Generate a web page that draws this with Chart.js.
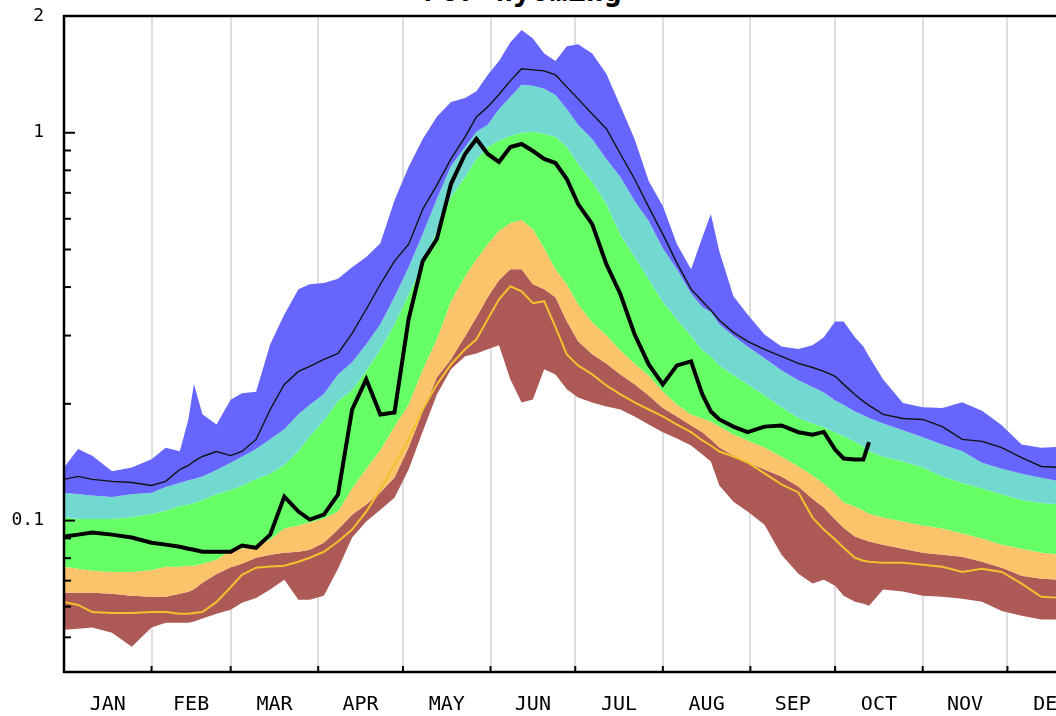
<!DOCTYPE html>
<html>
<head>
<meta charset="utf-8">
<script src="https://cdn.jsdelivr.net/npm/chart.js@4.4.1/dist/chart.umd.min.js"></script>
<style>
  html, body { margin: 0; padding: 0; background: #fff; overflow: hidden; }
  #wrap { position: relative; width: 1056px; height: 716px; overflow: hidden; }
  #title { position: absolute; left: 423px; top: -24px; font: bold 30px/30px "DejaVu Sans Mono", monospace; color: #000; white-space: nowrap; }
  canvas { position: absolute; left: 0; top: 0; }
</style>
</head>
<body>
<div id="wrap">
  <div id="title">For Wyoming</div>
  <canvas id="sweChart" width="1110" height="716"></canvas>
</div>
<script>
// day of year for every sample
const days = [0, 5, 10, 17, 24, 31, 36, 41, 44, 46, 49, 54, 59, 63, 68, 73, 78, 83, 87, 92,
  97, 102, 107, 112, 117, 122, 127, 132, 137, 142, 146, 150, 154, 158, 162, 166, 170, 174, 178, 182,
  187, 192, 197, 202, 207, 212, 217, 222, 226, 229, 232, 237, 242, 248, 254, 260, 265, 269, 273, 276,
  280, 283, 285, 290, 297, 304, 311, 318, 325, 332, 339, 346, 353, 365];

// band edges (top of blue down to bottom of brown)
const maxVals = [0.137, 0.153, 0.147, 0.134, 0.137, 0.144, 0.154, 0.151, 0.182, 0.225,
  0.188, 0.177, 0.205, 0.213, 0.215, 0.285, 0.340, 0.395, 0.407, 0.410,
  0.420, 0.450, 0.478, 0.519, 0.670, 0.816, 0.964, 1.10, 1.20, 1.23,
  1.28, 1.41, 1.53, 1.71, 1.84, 1.75, 1.60, 1.53, 1.67, 1.69,
  1.60, 1.42, 1.17, 0.964, 0.751, 0.647, 0.516, 0.445, 0.538, 0.617,
  0.495, 0.379, 0.340, 0.302, 0.281, 0.277, 0.283, 0.297, 0.326, 0.326,
  0.297, 0.281, 0.265, 0.231, 0.201, 0.196, 0.195, 0.202, 0.192, 0.176,
  0.157, 0.154, 0.155, 0.152];
const p90Vals = [0.118, 0.117, 0.116, 0.115, 0.117, 0.118, 0.122, 0.125, 0.127, 0.128,
  0.130, 0.135, 0.141, 0.146, 0.153, 0.162, 0.172, 0.188, 0.199, 0.212,
  0.238, 0.256, 0.285, 0.321, 0.377, 0.450, 0.548, 0.675, 0.821, 0.919,
  1.006, 1.048, 1.152, 1.237, 1.329, 1.321, 1.298, 1.252, 1.152, 1.048,
  0.964, 0.856, 0.769, 0.667, 0.592, 0.504, 0.445, 0.385, 0.355, 0.345,
  0.321, 0.299, 0.281, 0.262, 0.244, 0.230, 0.221, 0.214, 0.204, 0.199,
  0.191, 0.187, 0.184, 0.178, 0.171, 0.164, 0.157, 0.151, 0.141, 0.136,
  0.132, 0.129, 0.126, 0.123];
const p75Vals = [0.102, 0.101, 0.101, 0.101, 0.102, 0.104, 0.106, 0.109, 0.110, 0.111,
  0.113, 0.117, 0.120, 0.123, 0.128, 0.132, 0.139, 0.151, 0.165, 0.181,
  0.203, 0.217, 0.243, 0.276, 0.321, 0.383, 0.458, 0.558, 0.683, 0.769,
  0.856, 0.919, 0.953, 0.981, 1.000, 1.006, 0.994, 0.976, 0.919, 0.831,
  0.746, 0.655, 0.545, 0.478, 0.419, 0.366, 0.330, 0.299, 0.275, 0.265,
  0.251, 0.237, 0.2245, 0.210, 0.196, 0.184, 0.178, 0.174, 0.169, 0.165,
  0.160, 0.155, 0.151, 0.146, 0.142, 0.137, 0.130, 0.125, 0.121, 0.117,
  0.113, 0.111, 0.110, 0.107];
const p25Vals = [0.0760, 0.0751, 0.0742, 0.0737, 0.0737, 0.0746, 0.0760, 0.0760, 0.0765, 0.0765,
  0.0774, 0.0793, 0.0837, 0.0846, 0.0862, 0.0894, 0.0954, 0.0971, 0.0988, 0.1012,
  0.1055, 0.1210, 0.1360, 0.1520, 0.1748, 0.1993, 0.245, 0.2933, 0.3678, 0.4268,
  0.4722, 0.5159, 0.5577, 0.5848, 0.5954, 0.5640, 0.5040, 0.4445, 0.4068, 0.3612,
  0.3247, 0.3004, 0.2747, 0.2543, 0.2368, 0.2153, 0.1993, 0.1878, 0.1834, 0.1801,
  0.1748, 0.1666, 0.1609, 0.1543, 0.1463, 0.1379, 0.1306, 0.1247, 0.1176, 0.1113,
  0.1087, 0.1062, 0.1042, 0.1018, 0.0994, 0.0971, 0.0954, 0.0926, 0.0899, 0.0867,
  0.0846, 0.0826, 0.0816, 0.0802];
const p10Vals = [0.0652, 0.0652, 0.0652, 0.0648, 0.0640, 0.0636, 0.0636, 0.0648, 0.0655, 0.0665,
  0.0691, 0.0728, 0.0758, 0.0774, 0.0802, 0.0816, 0.0826, 0.0831, 0.0841, 0.0877,
  0.0948, 0.1036, 0.1100, 0.1181, 0.1292, 0.1543, 0.1910, 0.2340, 0.2605, 0.2986,
  0.3344, 0.3767, 0.4167, 0.4445, 0.4445, 0.4068, 0.3951, 0.3767, 0.3265, 0.2899,
  0.2683, 0.2543, 0.2382, 0.2245, 0.2103, 0.1950, 0.1856, 0.1759, 0.1690, 0.1619,
  0.1543, 0.1471, 0.1412, 0.1354, 0.1300, 0.1224, 0.1139, 0.1080, 0.1006, 0.0959,
  0.0910, 0.0894, 0.0883, 0.0867, 0.0846, 0.0826, 0.0816, 0.0807, 0.0783, 0.0756,
  0.0721, 0.0708, 0.0704, 0.0696];
const minVals = [0.0523, 0.0526, 0.0530, 0.0514, 0.0473, 0.0530, 0.0545, 0.0545, 0.0545, 0.0549,
  0.0559, 0.0575, 0.0589, 0.0614, 0.0632, 0.0664, 0.0704, 0.0625, 0.0625, 0.0640,
  0.0751, 0.0904, 0.0994, 0.1067, 0.1146, 0.1354, 0.1697, 0.2115, 0.2455, 0.2651,
  0.2697, 0.2764, 0.2831, 0.2313, 0.2017, 0.2053, 0.2455, 0.2382, 0.2182, 0.2078,
  0.2017, 0.1969, 0.1934, 0.1856, 0.1769, 0.1690, 0.1629, 0.1562, 0.1481, 0.1421,
  0.1232, 0.1119, 0.1055, 0.0976, 0.0816, 0.0729, 0.0688, 0.0704, 0.0679, 0.0640,
  0.0618, 0.0610, 0.0603, 0.0664, 0.0656, 0.0640, 0.0636, 0.0629, 0.0618, 0.0585,
  0.0568, 0.0556, 0.0556, 0.0549];

// lines
const medianVals = [0.1277, 0.1300, 0.1277, 0.1262, 0.1254, 0.1232, 0.1262, 0.1354, 0.1387, 0.1421,
  0.1463, 0.1507, 0.1471, 0.1507, 0.1619, 0.1934, 0.2245, 0.2425, 0.2498, 0.2605,
  0.2698, 0.3040, 0.3507, 0.4068, 0.4666, 0.5159, 0.6352, 0.7330, 0.8558, 0.9761,
  1.0988, 1.1660, 1.2550, 1.3609, 1.4614, 1.4527, 1.4440, 1.4098, 1.3131, 1.2228,
  1.1182, 1.0241, 0.8816, 0.7598, 0.6432, 0.5477, 0.4611, 0.3951, 0.3678, 0.3488,
  0.3285, 0.3057, 0.2899, 0.2764, 0.2651, 0.2543, 0.2481, 0.2425, 0.2355, 0.2245,
  0.2115, 0.2029, 0.1981, 0.1878, 0.1834, 0.1823, 0.1747, 0.1619, 0.1600, 0.1543,
  0.1454, 0.1379, 0.1371, 0.1315];
const minYearVals = [0.0617, 0.0606, 0.0581, 0.0578, 0.0578, 0.0581, 0.0581, 0.0575, 0.0575, 0.0578,
  0.0581, 0.0617, 0.0673, 0.0725, 0.0756, 0.0761, 0.0765, 0.0783, 0.0802, 0.0831,
  0.0883, 0.0948, 0.1055, 0.1202, 0.1395, 0.1619, 0.1934, 0.2245, 0.2528, 0.2764,
  0.2933, 0.3305, 0.3722, 0.4020, 0.3903, 0.3634, 0.3678, 0.3153, 0.2683, 0.2513,
  0.2382, 0.2231, 0.2115, 0.2017, 0.1934, 0.1856, 0.1769, 0.1690, 0.1609, 0.1562,
  0.1507, 0.1463, 0.1412, 0.1324, 0.1240, 0.1182, 0.1018, 0.0948, 0.0894, 0.0851,
  0.0802, 0.0788, 0.0783, 0.0778, 0.0778, 0.0769, 0.0760, 0.0737, 0.0751, 0.0737,
  0.0688, 0.0636, 0.0632, 0.0625];
const currentVals = [0.0910, 0.0920, 0.0931, 0.0920, 0.0904, 0.0877, 0.0867, 0.0856, 0.0846, 0.0841,
  0.0831, 0.0831, 0.0831, 0.0862, 0.0851, 0.0920, 0.1153, 0.1055, 0.1006, 0.1036,
  0.1167, 0.1934, 0.2313, 0.1878, 0.1900, 0.3305, 0.4666, 0.5320, 0.7375, 0.8816,
  0.9640, 0.8816, 0.8406, 0.9188, 0.9355, 0.8972, 0.8558, 0.8356, 0.7598, 0.6547,
  0.5813, 0.4583, 0.3834, 0.3022, 0.2528, 0.2245, 0.2513, 0.2574, 0.2115, 0.1911,
  0.1823, 0.1747, 0.1690, 0.1747, 0.1759, 0.1690, 0.1666, 0.1693, 0.1525, 0.1446,
  0.1438, 0.1438, 0.1593, null, null, null, null, null, null, null,
  null, null, null, null];

// axes
const monthStarts = [0, 31, 59, 90, 120, 151, 181, 212, 243, 273, 304, 334, 365];
const monthMids = [15.5, 45, 74.5, 105, 135.5, 166, 196.5, 227.5, 258, 288.5, 319, 349.5];
const monthLabels = ['JAN', 'FEB', 'MAR', 'APR', 'MAY', 'JUN', 'JUL', 'AUG', 'SEP', 'OCT', 'NOV', 'DEC'];
const yTicks = [0.05, 0.06, 0.07, 0.08, 0.09, 0.1, 0.2, 0.3, 0.4, 0.5, 0.6, 0.7, 0.8, 0.9, 1, 2];
const yLabelText = ['', '', '', '', '', '0.1', '', '', '', '', '', '', '', '', '1', '2'];
const yMin = 0.0407;
const yMax = 2;

const pts = arr => days.map((d, i) => ({ x: d, y: arr[i] }));
const monoFont = "'DejaVu Sans Mono', monospace";

const band = (label, arr, color) => ({
    label: label, data: pts(arr), borderWidth: 0, pointRadius: 0,
    backgroundColor: color, fill: '+1', tension: 0
});
const line = (label, arr, color, width) => ({
    label: label, data: pts(arr), borderColor: color, borderWidth: width,
    pointRadius: 0, fill: false, tension: 0, spanGaps: false
});

// inside tick marks + frame box
const frameAndTicks = {
    id: 'frameAndTicks',
    afterDatasetsDraw(chart) {
        const { ctx, chartArea: a, scales } = chart;
        ctx.save();
        ctx.strokeStyle = '#000';
        ctx.lineWidth = 2;
        yTicks.forEach((v, i) => {
            const y = scales.y.getPixelForValue(v);
            const len = yLabelText[i] ? 11 : 7;
            ctx.beginPath(); ctx.moveTo(a.left, y); ctx.lineTo(a.left + len, y); ctx.stroke();
        });
        monthStarts.forEach(d => {
            const x = scales.x.getPixelForValue(d);
            ctx.beginPath(); ctx.moveTo(x, a.bottom); ctx.lineTo(x, a.bottom - 6); ctx.stroke();
        });
        ctx.lineWidth = 2.5;
        ctx.strokeRect(a.left, a.top, a.right - a.left, a.bottom - a.top);
        ctx.restore();
    }
};

new Chart(document.getElementById('sweChart'), {
    type: 'line',
    data: {
        datasets: [
            line('Current', currentVals, '#000000', 4),
            line('Median', medianVals, '#111111', 1.4),
            line('Min year', minYearVals, '#f2c12e', 2),
            band('Max', maxVals, '#6666ff'),
            band('90%', p90Vals, '#72d9d0'),
            band('75%', p75Vals, '#66ff66'),
            band('25%', p25Vals, '#fbc36a'),
            band('10%', p10Vals, '#ad5a57'),
            { label: 'Min', data: pts(minVals), borderWidth: 0, pointRadius: 0, fill: false }
        ]
    },
    options: {
        responsive: false,
        animation: false,
        layout: { padding: { top: 16, right: 15, left: 0, bottom: 0 } },
        plugins: { legend: { display: false }, tooltip: { enabled: false } },
        scales: {
            x: {
                type: 'linear', position: 'bottom', min: 0, max: 365,
                afterFit: s => { s.height = 0; },
                afterBuildTicks: s => { s.ticks = monthStarts.map(v => ({ value: v })); },
                ticks: { display: false },
                grid: { color: '#dddddd', lineWidth: 2, drawTicks: false },
                border: { display: false }
            },
            xm: {
                type: 'linear', position: 'bottom', min: 0, max: 365,
                afterFit: s => { s.height = 44; },
                afterBuildTicks: s => { s.ticks = monthMids.map(v => ({ value: v })); },
                ticks: {
                    autoSkip: false, maxRotation: 0, padding: 21, color: '#000',
                    font: { family: monoFont, size: 20 },
                    callback: (v, i) => monthLabels[i]
                },
                grid: { display: false, drawTicks: false },
                border: { display: false }
            },
            y: {
                type: 'logarithmic', min: yMin, max: yMax,
                afterFit: s => { s.width = 64; s.paddingTop = 0; s.paddingBottom = 0; },
                afterBuildTicks: s => { s.ticks = yTicks.map(v => ({ value: v })); },
                ticks: {
                    autoSkip: false, padding: 20, color: '#000',
                    font: { family: monoFont, size: 18 },
                    callback: (v, i) => yLabelText[i]
                },
                grid: { display: false, drawTicks: false },
                border: { display: false }
            }
        }
    },
    plugins: [frameAndTicks]
});
</script>
</body>
</html>
